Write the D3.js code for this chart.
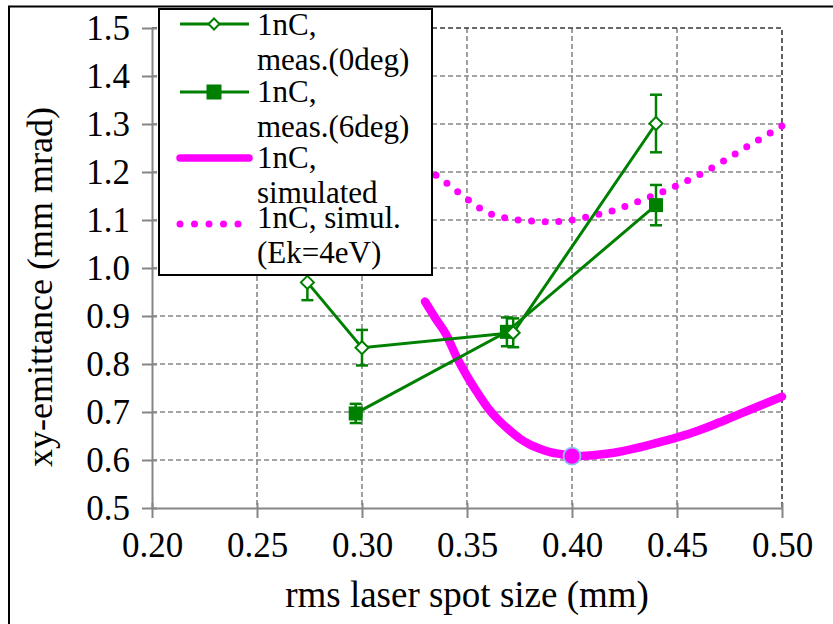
<!DOCTYPE html>
<html>
<head>
<meta charset="utf-8">
<script src="https://cdn.jsdelivr.net/npm/d3@7"></script>
<style>
  @font-face {
    font-family: "ChartSerif";
    src: local("Liberation Serif"), local("LiberationSerif"), local("Liberation Serif Regular"), local("LiberationSerif-Regular");
  }
  body { margin: 0; }
  text { font-family: "ChartSerif", "Liberation Serif", "Tinos", serif; }
</style>
</head>
<body>
<script>
// Data
const xTicks = [0.20, 0.25, 0.30, 0.35, 0.40, 0.45, 0.50];
const yTicks = [0.5, 0.6, 0.7, 0.8, 0.9, 1.0, 1.1, 1.2, 1.3, 1.4, 1.5];

// 1nC, meas.(0deg): [x, y, error]
const meas0deg = [
  [0.274, 0.970, 0.037],
  [0.300, 0.834, 0.037],
  [0.372, 0.865, 0.030],
  [0.440, 1.301, 0.060]
];

// 1nC, meas.(6deg): [x, y, error]
const meas6deg = [
  [0.297, 0.697, 0.020],
  [0.369, 0.867, 0.030],
  [0.440, 1.131, 0.042]
];

// 1nC, simulated
const simulated = [
  [0.330, 0.930], [0.335, 0.895], [0.340, 0.862], [0.345, 0.815],
  [0.350, 0.775], [0.355, 0.740], [0.360, 0.708], [0.365, 0.683],
  [0.370, 0.663], [0.375, 0.645], [0.380, 0.632], [0.385, 0.623],
  [0.390, 0.616], [0.395, 0.612], [0.400, 0.608], [0.410, 0.610],
  [0.420, 0.615], [0.430, 0.624], [0.440, 0.635], [0.450, 0.647],
  [0.460, 0.661], [0.470, 0.678], [0.480, 0.696], [0.490, 0.714],
  [0.500, 0.732]
];

// 1nC, simul. (Ek=4eV)
const simulEk4 = [
  [0.330, 1.210], [0.340, 1.178], [0.350, 1.144], [0.360, 1.115],
  [0.370, 1.103], [0.380, 1.098], [0.390, 1.096], [0.400, 1.100],
  [0.410, 1.109], [0.420, 1.120], [0.430, 1.136], [0.440, 1.153],
  [0.450, 1.172], [0.460, 1.193], [0.470, 1.217], [0.480, 1.244],
  [0.490, 1.270], [0.500, 1.296]
];

const legendLabels = [
  ["1nC,", "meas.(0deg)"],
  ["1nC,", "meas.(6deg)"],
  ["1nC,", "simulated"],
  ["1nC, simul.", "(Ek=4eV)"]
];

const COLORS = {
  green: "#008000",
  magenta: "#ff00ff",
  grid: "#888888",
  axis: "#868686",
  marker: "#8ec5ee"
};

const SERIF = "'Liberation Serif'";

const W = 833, H = 624;
const plot = { left: 152, right: 782, top: 28, bottom: 508 };

const svg = d3.select("body").append("svg")
  .attr("width", W)
  .attr("height", H);

const x = d3.scaleLinear().domain([0.20, 0.50]).range([plot.left, plot.right]);
const y = d3.scaleLinear().domain([0.5, 1.5]).range([plot.bottom, plot.top]);

// serif text helper
function serif(sel, size) {
  return sel.style("font-family", SERIF).style("font-size", size + "px");
}

// gridlines
const grid = svg.append("g")
  .attr("stroke", COLORS.grid)
  .attr("stroke-width", 1.6)
  .attr("stroke-dasharray", "5 3");

grid.selectAll("line.h")
  .data(yTicks.slice(1, -1))
  .join("line")
  .attr("class", "h")
  .attr("x1", plot.left).attr("x2", plot.right)
  .attr("y1", d => y(d)).attr("y2", d => y(d));

grid.selectAll("line.v")
  .data(xTicks.slice(1, -1))
  .join("line")
  .attr("class", "v")
  .attr("y1", plot.top).attr("y2", plot.bottom)
  .attr("x1", d => x(d)).attr("x2", d => x(d));

// plot area border (top & right dashed dark)
svg.append("path")
  .attr("d", `M${plot.left},${plot.top}H${plot.right}V${plot.bottom}`)
  .attr("fill", "none")
  .attr("stroke", "#3a3a3a")
  .attr("stroke-width", 1.6)
  .attr("stroke-dasharray", "5 3");

// axes
const yAxis = d3.axisLeft(y)
  .tickValues(yTicks)
  .tickFormat(d3.format(".1f"))
  .tickSizeInner(10)
  .tickSizeOuter(0)
  .tickPadding(12);

const xAxis = d3.axisBottom(x)
  .tickValues(xTicks)
  .tickFormat(d3.format(".2f"))
  .tickSizeInner(10)
  .tickSizeOuter(0)
  .tickPadding(14);

const gy = svg.append("g")
  .attr("transform", `translate(${plot.left},0)`)
  .call(yAxis);

const gx = svg.append("g")
  .attr("transform", `translate(0,${plot.bottom})`)
  .call(xAxis);

[gx, gy].forEach(g => {
  g.attr("font-family", null).attr("font-size", null);
  g.select(".domain").attr("stroke", COLORS.axis).attr("stroke-width", 2);
  g.selectAll(".tick line").attr("stroke", COLORS.axis).attr("stroke-width", 2);
  serif(g.selectAll(".tick text").attr("fill", "#000"), 35);
});
// ticks cross the axis a little
gy.selectAll(".tick line").attr("x2", 5).attr("x1", -10);
gx.selectAll(".tick line").attr("y1", -5).attr("y2", 10);

// axis titles
serif(svg.append("text"), 37)
  .attr("x", (plot.left + plot.right) / 2)
  .attr("y", 607)
  .attr("text-anchor", "middle")
  .text("rms laser spot size (mm)");

serif(svg.append("text"), 36)
  .attr("transform", `translate(52,287) rotate(-90)`)
  .attr("text-anchor", "middle")
  .text("xy-emittance (mm mrad)");

// series
const line = d3.line().x(d => x(d[0])).y(d => y(d[1]));
const smooth = d3.line().curve(d3.curveMonotoneX).x(d => x(d[0])).y(d => y(d[1]));

svg.append("path")
  .datum(simulated)
  .attr("d", smooth)
  .attr("fill", "none")
  .attr("stroke", COLORS.magenta)
  .attr("stroke-width", 8.5)
  .attr("stroke-linecap", "round");

svg.append("path")
  .datum(simulEk4)
  .attr("d", smooth)
  .attr("fill", "none")
  .attr("stroke", COLORS.magenta)
  .attr("stroke-width", 7)
  .attr("stroke-linecap", "round")
  .attr("stroke-dasharray", "0 13.6");

function drawMeasured(data, markerFn) {
  const g = svg.append("g");
  g.append("path")
    .datum(data)
    .attr("d", line)
    .attr("fill", "none")
    .attr("stroke", COLORS.green)
    .attr("stroke-width", 3);

  const err = g.append("g")
    .attr("stroke", COLORS.green)
    .attr("stroke-width", 2.5)
    .selectAll("g")
    .data(data)
    .join("g");
  err.append("line")
    .attr("x1", d => x(d[0])).attr("x2", d => x(d[0]))
    .attr("y1", d => y(d[1] - d[2])).attr("y2", d => y(d[1] + d[2]));
  err.append("line")
    .attr("x1", d => x(d[0]) - 6).attr("x2", d => x(d[0]) + 6)
    .attr("y1", d => y(d[1] - d[2])).attr("y2", d => y(d[1] - d[2]));
  err.append("line")
    .attr("x1", d => x(d[0]) - 6).attr("x2", d => x(d[0]) + 6)
    .attr("y1", d => y(d[1] + d[2])).attr("y2", d => y(d[1] + d[2]));

  g.selectAll(".mk")
    .data(data)
    .join("g")
    .attr("class", "mk")
    .attr("transform", d => `translate(${x(d[0])},${y(d[1])})`)
    .each(function () { markerFn(d3.select(this)); });
}

function diamond(sel, r = 6.5) {
  sel.append("path")
    .attr("d", `M0,${-r}L${r},0L0,${r}L${-r},0Z`)
    .attr("fill", "#fff")
    .attr("stroke", COLORS.green)
    .attr("stroke-width", 2);
}

function square(sel, s = 14) {
  sel.append("rect")
    .attr("x", -s / 2).attr("y", -s / 2)
    .attr("width", s).attr("height", s)
    .attr("fill", COLORS.green);
}

drawMeasured(meas6deg, square);
drawMeasured(meas0deg, diamond);

// highlighted minimum of the simulated curve
const minPt = simulated.reduce((a, b) => (b[1] < a[1] ? b : a));
svg.append("circle")
  .attr("cx", x(minPt[0]))
  .attr("cy", y(minPt[1]))
  .attr("r", 8.5)
  .attr("fill", COLORS.magenta)
  .attr("stroke", COLORS.marker)
  .attr("stroke-width", 1.8);

// legend
const legend = svg.append("g");
legend.append("rect")
  .attr("x", 159).attr("y", 9)
  .attr("width", 273).attr("height", 266)
  .attr("fill", "#fff")
  .attr("stroke", "#000")
  .attr("stroke-width", 2);

const rowY = [24, 92, 158, 224];
const rowBase = [35, 102, 168, 228];
const lineGap = 35;

legendLabels.forEach((lines, i) => {
  const row = legend.append("g");
  const ly = rowY[i];
  if (i < 2) {
    row.append("line")
      .attr("x1", 180).attr("x2", 249)
      .attr("y1", ly).attr("y2", ly)
      .attr("stroke", COLORS.green)
      .attr("stroke-width", 3);
    const m = row.append("g").attr("transform", `translate(214,${ly})`);
    if (i === 0) diamond(m, 5.5); else square(m, 15);
  } else if (i === 2) {
    row.append("line")
      .attr("x1", 180).attr("x2", 249)
      .attr("y1", ly).attr("y2", ly)
      .attr("stroke", COLORS.magenta)
      .attr("stroke-width", 7.5)
      .attr("stroke-linecap", "round");
  } else {
    row.append("line")
      .attr("x1", 180).attr("x2", 245)
      .attr("y1", ly).attr("y2", ly)
      .attr("stroke", COLORS.magenta)
      .attr("stroke-width", 7)
      .attr("stroke-linecap", "round")
      .attr("stroke-dasharray", "0 14.5");
  }
  lines.forEach((t, j) => {
    serif(row.append("text"), 31)
      .attr("x", 257)
      .attr("y", rowBase[i] + j * lineGap)
      .text(t);
  });
});

// chart frame (cut off at right and bottom)
svg.append("rect")
  .attr("x", 9).attr("y", 6.5)
  .attr("width", 900).attr("height", 700)
  .attr("fill", "none")
  .attr("stroke", "#000")
  .attr("stroke-width", 2);
</script>
</body>
</html>
